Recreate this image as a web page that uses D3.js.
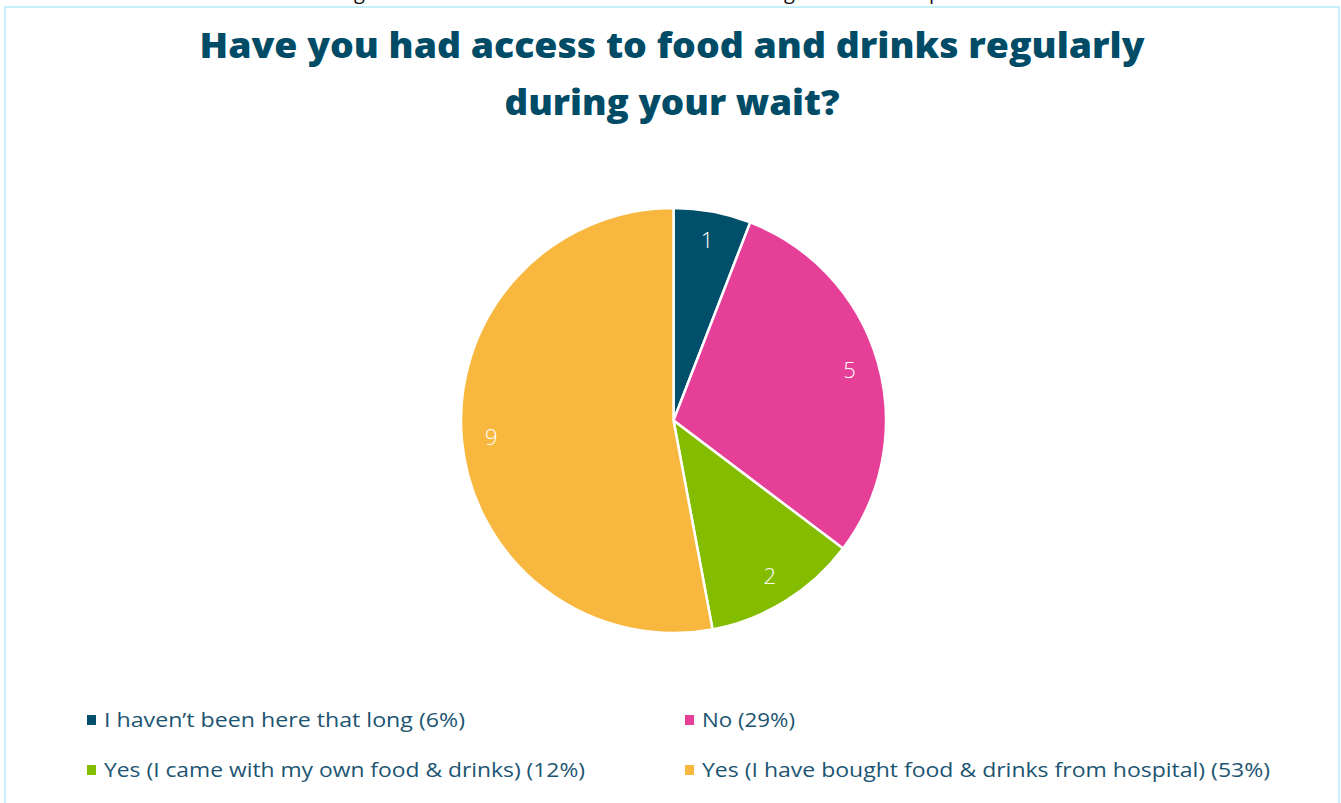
<!DOCTYPE html>
<html>
<head>
<meta charset="utf-8">
<script src="https://cdn.jsdelivr.net/npm/d3@7"></script>
<style>
  html, body { margin: 0; padding: 0; background: #ffffff; }
  svg { display: block; }
</style>
</head>
<body>
<svg id="chart" width="1341" height="803"></svg>
<script>
// Survey answers and response counts
const categories = [
  "I haven’t been here that long",
  "No",
  "Yes (I came with my own food & drinks)",
  "Yes (I have bought food & drinks from hospital)"
];
const counts = [1, 5, 2, 9];
const percentLabels = ["6%", "29%", "12%", "53%"];
const colors = ["#00506b", "#e63f97", "#84bd00", "#f8b83f"];
const titleLines = ["Have you had access to food and drinks regularly", "during your wait?"];

const svg = d3.select("#chart");
const W = 1341, H = 803;

// Descenders of the text line sitting just above the frame
const topFrag = svg.append("g")
  .attr("font-family", "'Open Sans', sans-serif")
  .attr("font-size", 20)
  .attr("fill", "#111");
[["g", 354], ["g", 784], ["p", 929]].forEach(([t, x]) => {
  topFrag.append("text").attr("x", x).attr("y", -1).text(t);
});

// Chart frame
svg.append("rect")
  .attr("x", 5).attr("y", 7)
  .attr("width", 1334).attr("height", H + 20)
  .attr("fill", "none")
  .attr("stroke", "#c7f0fb")
  .attr("stroke-width", 2);

// Title
const title = svg.append("g")
  .attr("font-family", "'Open Sans', sans-serif")
  .attr("font-weight", 800)
  .attr("font-size", 36)
  .attr("fill", "#004c67")
  .attr("text-anchor", "middle");
const titleWidths = [945, 335];
titleLines.forEach((line, i) => {
  title.append("text")
    .attr("x", 672)
    .attr("y", 58 + i * 57)
    .attr("textLength", titleWidths[i])
    .attr("lengthAdjust", "spacingAndGlyphs")
    .text(line);
});

// Pie
const cx = 673.5, cy = 420.5, r = 212.5;
const pie = d3.pie().sort(null).value(d => d)(counts);
const arc = d3.arc().innerRadius(0).outerRadius(r);
const labelArc = d3.arc().innerRadius(183).outerRadius(183);

const g = svg.append("g").attr("transform", `translate(${cx},${cy})`);
g.selectAll("path.slice")
  .data(pie)
  .join("path")
  .attr("class", "slice")
  .attr("d", arc)
  .attr("fill", (d, i) => colors[i])
  .attr("stroke", "#ffffff")
  .attr("stroke-width", 2.5)
  .attr("stroke-linejoin", "round");

g.selectAll("text.val")
  .data(pie)
  .join("text")
  .attr("class", "val")
  .attr("transform", d => `translate(${labelArc.centroid(d)})`)
  .attr("text-anchor", "middle")
  .attr("dy", "0.35em")
  .attr("font-family", "'Open Sans', sans-serif")
  .attr("font-weight", 300)
  .attr("font-size", 22)
  .attr("fill", "#ffffff")
  .text(d => d.data);

// Legend: two columns, two rows
const legendWidths = [361, 93, 481, 568];
const legend = svg.append("g")
  .attr("font-family", "'Open Sans', sans-serif")
  .attr("font-size", 20)
  .attr("fill", "#1c5572");
categories.forEach((c, i) => {
  const col = i % 2, row = Math.floor(i / 2);
  const x = col === 0 ? 87 : 685;
  const y = 720 + row * 50;
  legend.append("rect")
    .attr("x", x).attr("y", y - 5)
    .attr("width", 9).attr("height", 10)
    .attr("fill", colors[i]);
  legend.append("text")
    .attr("x", x + 17)
    .attr("y", y + 7)
    .attr("textLength", legendWidths[i])
    .attr("lengthAdjust", "spacingAndGlyphs")
    .text(`${c} (${percentLabels[i]})`);
});
</script>
</body>
</html>
